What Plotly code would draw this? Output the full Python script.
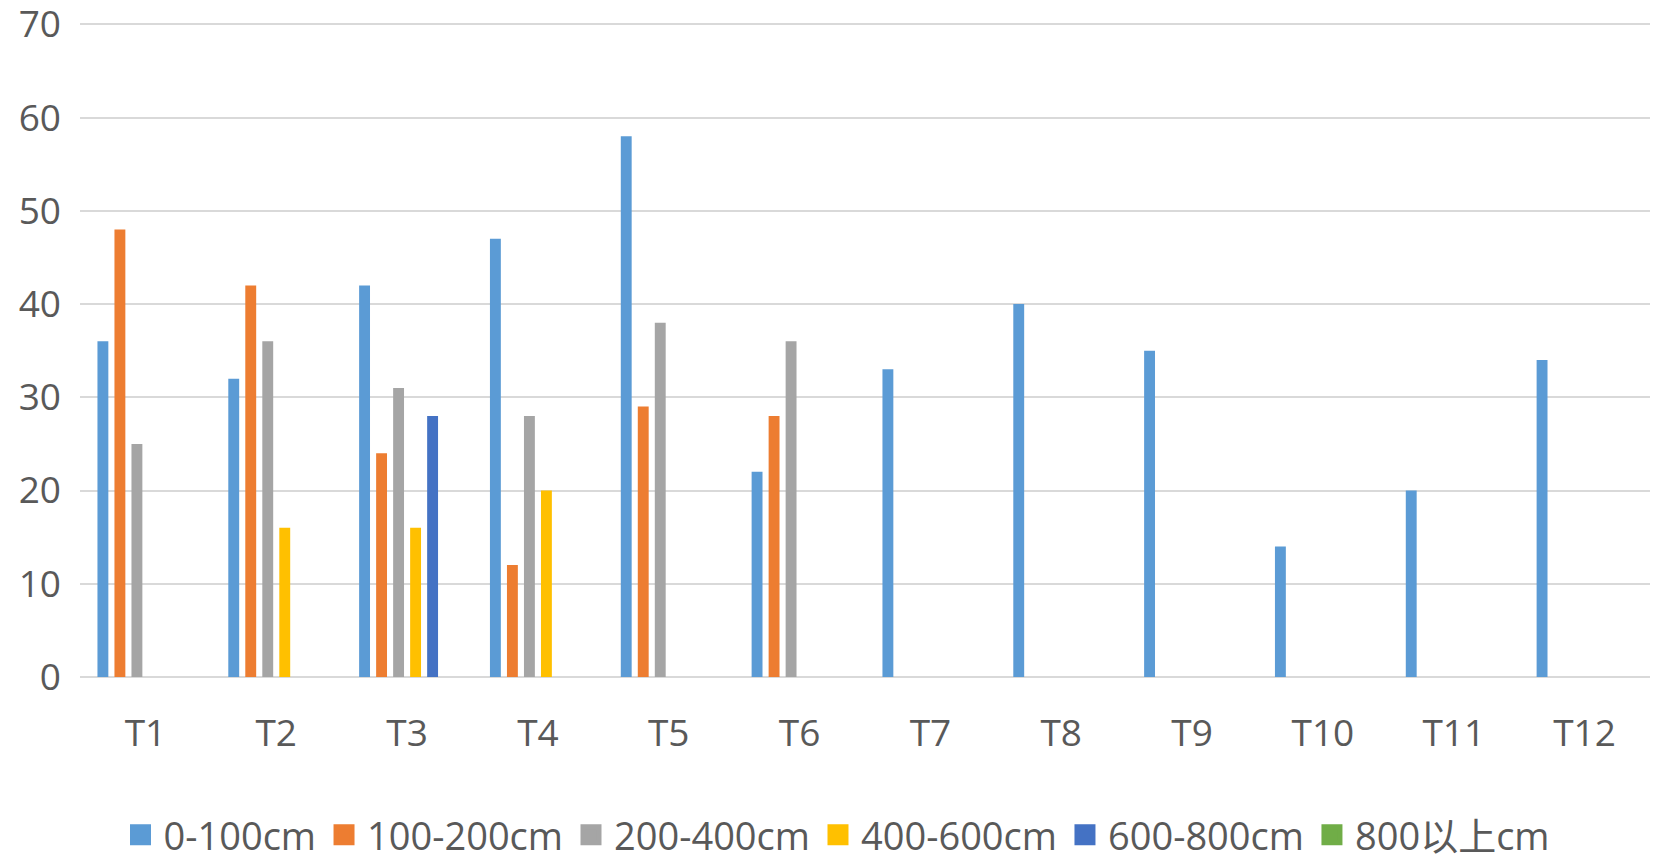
import plotly.graph_objects as go

categories = ["T1", "T2", "T3", "T4", "T5", "T6", "T7", "T8", "T9", "T10", "T11", "T12"]
series_names = ["0-100cm", "100-200cm", "200-400cm", "400-600cm", "600-800cm", "800以上cm"]
s_0_100 = [36, 32, 42, 47, 58, 22, 33, 40, 35, 14, 20, 34]
s_100_200 = [48, 42, 24, 12, 29, 28, 0, 0, 0, 0, 0, 0]
s_200_400 = [25, 36, 31, 28, 38, 36, 0, 0, 0, 0, 0, 0]
s_400_600 = [0, 16, 16, 20, 0, 0, 0, 0, 0, 0, 0, 0]
s_600_800 = [0, 0, 28, 0, 0, 0, 0, 0, 0, 0, 0, 0]
s_800_up = [0, 0, 0, 0, 0, 0, 0, 0, 0, 0, 0, 0]
colors = ["#5B9BD5", "#ED7D31", "#A5A5A5", "#FFC000", "#4472C4", "#70AD47"]
y_ticks = [0, 10, 20, 30, 40, 50, 60, 70]

all_series = [s_0_100, s_100_200, s_200_400, s_400_600, s_600_800, s_800_up]

FONT = "Open Sans, Lato, DejaVu Sans, Noto Sans CJK SC, sans-serif"
GRAY = "#595959"

fig = go.Figure()
for name, vals, col in zip(series_names, all_series, colors):
    fig.add_trace(go.Bar(x=categories, y=vals, name=name, marker_color=col,
                         marker_line_width=0, showlegend=False))
for name, col in zip(series_names, colors):
    fig.add_trace(go.Scatter(x=[None], y=[None], mode="markers", name=name,
                             marker=dict(symbol="square", size=16, color=col,
                                         line=dict(color=col, width=5)),
                             showlegend=True))

fig.update_layout(
    width=1663, height=861,
    margin=dict(l=80, r=13, t=15, b=184, autoexpand=False),
    paper_bgcolor="white", plot_bgcolor="white",
    barmode="group", bargap=0.22, bargroupgap=0.36,
    font=dict(family=FONT, size=36, color=GRAY),
    legend=dict(orientation="h", xref="container", yref="container",
                x=0.503, xanchor="center", y=0.030, yanchor="middle",
                font=dict(family=FONT, size=38, color=GRAY),
                itemsizing="trace", itemwidth=36, tracegroupgap=0),
    xaxis=dict(showgrid=False, showline=False, ticks="", ticklabelstandoff=31,
               automargin=False,
               tickfont=dict(family=FONT, size=37, color=GRAY)),
    yaxis=dict(range=[0, 71], tickvals=y_ticks, showgrid=True, gridcolor="#D9D9D9",
               gridwidth=2, zeroline=True, zerolinecolor="#D9D9D9", zerolinewidth=2,
               showline=False, ticks="", ticklabelstandoff=18,
               ticklabeloverflow="allow", automargin=False,
               tickfont=dict(family=FONT, size=37, color=GRAY)),
)

fig.write_html("out.html", config={"displayModeBar": False},
               post_script="document.body.style.margin='0px';document.body.style.overflow='hidden';")
